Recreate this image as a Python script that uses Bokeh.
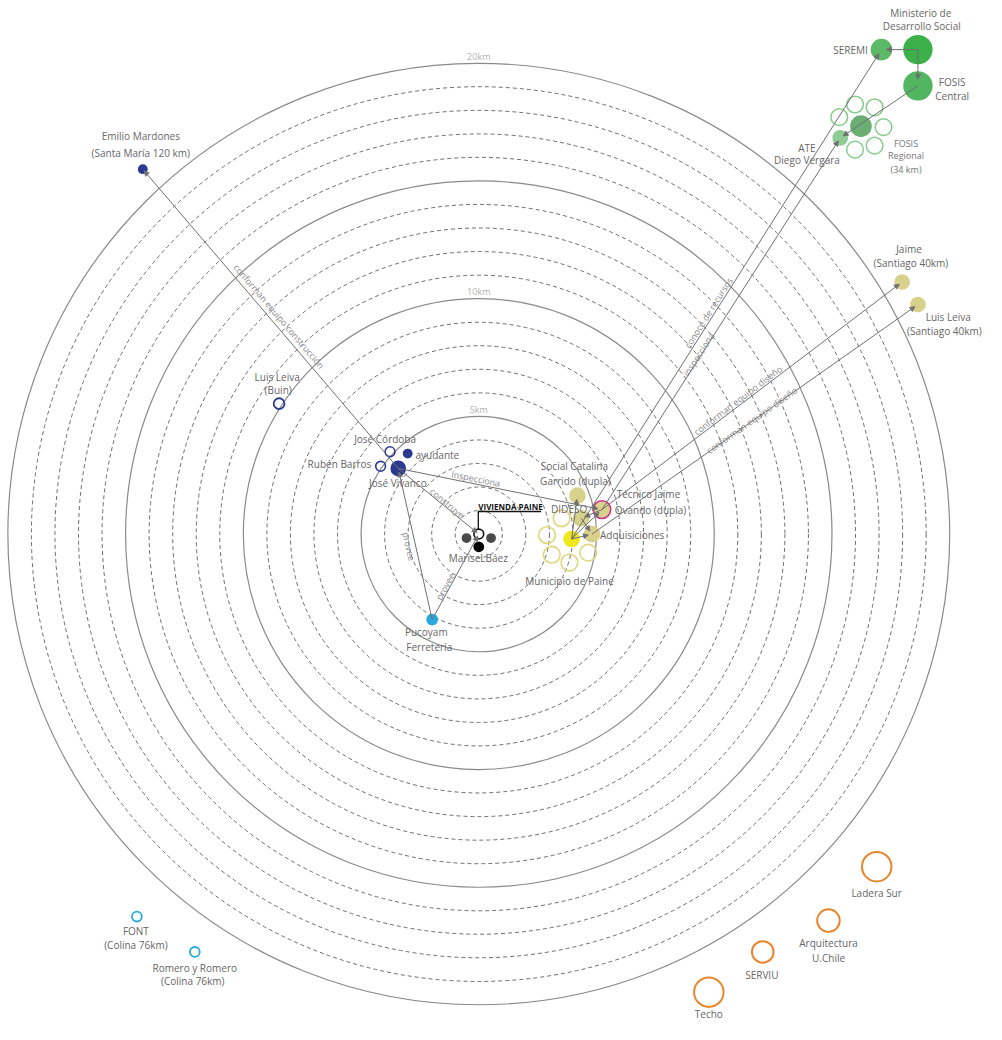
import math
from bokeh.plotting import figure
from bokeh.models import ColumnDataSource, Range1d, Arrow, NormalHead
from bokeh.core.properties import value
from bokeh.embed import file_html
from bokeh.resources import INLINE

# ---------------- DATA ----------------
# distance rings (km)
ring_km = list(range(1, 21))
solid_rings = [5, 10, 15, 20]
ring_label_km = [5, 10, 20]
ring_label_txt = ["5km", "10km", "20km"]

# actors: position in km east / north of the house (diagram distance), group
node_name = ["vivienda", "marisel_a", "marisel_b", "marisel_c",
             "vivanco", "ayudante", "cordoba", "barros", "leiva_buin", "mardones",
             "pucoyam", "font", "romero",
             "social", "dideso", "tecnico", "adquisiciones", "municipio",
             "muni_o1", "muni_o2", "muni_o3", "muni_o4", "muni_o5",
             "jaime", "leiva_stgo",
             "ministerio", "seremi", "fosis_central", "fosis_regional", "ate",
             "fosis_o1", "fosis_o2", "fosis_o3", "fosis_o4", "fosis_o5", "fosis_o6",
             "ladera", "arquitectura", "serviu", "techo"]
node_x = [0.0, -0.52, 0.52, 0.0,
          -3.42, -3.02, -3.77, -4.17, -8.48, -14.27,
          -1.98, -14.52, -12.06,
          4.19, 4.35, 5.23, 4.81, 3.94,
          3.52, 2.90, 3.10, 3.85, 4.65,
          17.98, 18.65,
          18.65, 17.10, 18.65, 16.23, 15.35,
          15.31, 15.98, 16.81, 17.19, 16.81, 15.98,
          16.90, 14.85, 12.06, 9.77]
node_y = [0.0, -0.17, -0.17, -0.54,
          2.79, 3.42, 3.50, 2.88, 5.54, 15.50,
          -3.63, -16.25, -17.75,
          1.63, 0.67, 1.04, 0.0, -0.21,
          0.67, -0.04, -0.875, -1.21, -0.79,
          10.71, 9.75,
          20.58, 20.58, 19.04, 17.33, 16.83,
          17.71, 18.25, 18.13, 17.29, 16.50, 16.33,
          -14.13, -16.42, -17.75, -19.46]
node_group = ["house", "dark", "dark", "black",
              "navy_big", "navy", "navy_open", "navy_open", "navy_open6", "navy",
              "cyan", "cyan_open", "cyan_open",
              "khaki", "khaki", "tecnico", "khaki", "yellow",
              "yellow_open", "yellow_open", "yellow_open", "yellow_open", "yellow_open",
              "khaki_s", "khaki_s",
              "green_min", "green_seremi", "green_central", "green_regional", "green_ate",
              "green_open", "green_open", "green_open", "green_open", "green_open", "green_open",
              "orange_big", "orange_mid", "orange_sm", "orange_big"]

# relations (from, to)
edge_from = ["vivanco", "vivanco", "vivanco", "pucoyam", "pucoyam",
             "tecnico", "adquisiciones", "municipio", "tecnico",
             "ministerio", "ministerio", "fosis_central",
             "municipio", "municipio", "municipio", "dideso", "tecnico"]
edge_to = ["mardones", "tecnico", "vivienda", "vivanco", "vivienda",
           "jaime", "leiva_stgo", "seremi", "ate",
           "seremi", "fosis_central", "ate",
           "social", "tecnico", "adquisiciones", "adquisiciones", "dideso"]

edge_label_txt = ["conforman equipo construcción", "Inspecciona", "construye", "provee", "provee",
                  "conforman equipo diseño", "conforman equipo diseño", "conoce de recursos", "inspecciona"]

# ---------------- LAYOUT / STYLE ----------------
CX, CY, KM = 487.5, 544.0, 24.0   # reference-pixel frame of the diagram


def P(px, py):
    return ((px - CX) / KM, (CY - py) / KM)


NAVY, CYAN, KHAKI = "#2b3990", "#27aae1", "#d8d18b"
styles = {
    "house": dict(r=5, fill=None, line="#111111", lw=1.6),
    "dark": dict(r=5, fill="#4a4a4a", line=None, lw=0),
    "black": dict(r=5.5, fill="#000000", line=None, lw=0),
    "navy_big": dict(r=8, fill=NAVY, line=None, lw=0),
    "navy": dict(r=5, fill=NAVY, line=None, lw=0),
    "navy_open": dict(r=5, fill=None, line=NAVY, lw=1.6),
    "navy_open6": dict(r=5.5, fill=None, line=NAVY, lw=1.8),
    "cyan": dict(r=6, fill=CYAN, line=None, lw=0),
    "cyan_open": dict(r=5, fill=None, line=CYAN, lw=1.8),
    "yellow_open": dict(r=8.5, fill=None, line="#dfd67a", lw=1.6),
    "khaki": dict(r=8.5, fill=KHAKI, line=None, lw=0),
    "khaki_s": dict(r=8, fill=KHAKI, line=None, lw=0),
    "tecnico": dict(r=9, fill=KHAKI, line="#c8378e", lw=1.6),
    "yellow": dict(r=8.5, fill="#f0e61c", line=None, lw=0),
    "green_open": dict(r=8.5, fill=None, line="#86cb8a", lw=1.5),
    "green_min": dict(r=15, fill="#3cb14a", line=None, lw=0),
    "green_seremi": dict(r=11, fill="#5bb967", line=None, lw=0),
    "green_central": dict(r=15, fill="#52b560", line=None, lw=0),
    "green_regional": dict(r=11, fill="#6aae72", line=None, lw=0),
    "green_ate": dict(r=8, fill="#8fcc93", line=None, lw=0),
    "orange_big": dict(r=15, fill=None, line="#e8862d", lw=2),
    "orange_mid": dict(r=11.5, fill=None, line="#e8862d", lw=2),
    "orange_sm": dict(r=11, fill=None, line="#e8862d", lw=2),
}

# edge-label centres (reference pixels), one per labelled edge (first edges)
edge_label_pos = [(284, 322), (484.5, 487.5), (455.5, 512.5), (416.3, 556.7), (453.3, 597.5),
                  (751.7, 407.5), (765.8, 428), (721.7, 318.3), (711.7, 360.8)]
edge_label_edge = [0, 1, 2, 3, 4, 5, 6, 7, 8]

node_labels = [
    ("Emilio Mardones", 143, 138, "center"), ("(Santa María 120 km)", 143, 155, "center"),
    ("Luis Leiva", 282, 384, "center"), ("(Buin)", 283, 397, "center"),
    ("José Córdoba", 392, 447, "center"), ("Rubén Barros", 378, 473, "right"),
    ("ayudante", 423, 463, "left"), ("José Vivanco", 405, 492, "center"),
    ("Pucoyam", 434, 644, "center"), ("Ferretería", 437, 659, "center"),
    ("MariseLBáez", 487, 568, "center"),
    ("Social Catalina", 585, 475, "center"), ("Garrido (dupla)", 586, 490, "center"),
    ("DIDESO", 598, 518, "right"), ("Técnico Jaime", 628, 503, "left"),
    ("Ovando (dupla)", 626, 519, "left"), ("Adquisiciones", 611, 545, "left"),
    ("Municipio de Paine", 580, 592, "center"),
    ("FONT", 138, 949, "center"), ("(Colina 76km)", 138, 963, "center"),
    ("Romero y Romero", 198, 986, "center"), ("(Colina 76km)", 196, 1000, "center"),
    ("Ladera Sur", 893, 910, "center"), ("Arquitectura", 844, 961, "center"),
    ("U.Chile", 844, 976, "center"), ("SERVIU", 776, 994, "center"), ("Techo", 722, 1033, "center"),
    ("Jaime", 926, 253, "center"), ("(Santiago 40km)", 928, 268, "center"),
    ("Luis Leiva", 966, 323, "center"), ("(Santiago 40km)", 962, 337, "center"),
    ("Ministerio de", 938, 13, "center"), ("Desarrollo Social", 939, 26, "center"),
    ("SEREMI", 884, 50, "right"), ("FOSIS", 970, 83, "center"), ("Central", 970, 97, "center"),
    ("ATE", 822, 150, "center"), ("Diego Vergara", 822, 163, "center"),
]
small_labels = [("FOSIS", 923, 146), ("Regional", 923, 158), ("(34 km)", 923, 172)]

FONT = value("Open Sans")

# ---------------- FIGURE ----------------
W, H = 986, 1024
p = figure(width=W, height=H,
           x_range=Range1d(P(0, 0)[0], P(1005, 0)[0]),
           y_range=Range1d(P(0, 1044)[1], P(0, 0)[1]),
           x_axis_type=None, y_axis_type=None,
           output_backend="svg", toolbar_location=None, min_border=0)
p.grid.visible = False
p.outline_line_color = None
p.background_fill_color = "white"

# rings
dashed = [r for r in ring_km if r not in solid_rings]
p.circle(x=[0] * len(dashed), y=[0] * len(dashed), radius=dashed, fill_color=None,
         line_color="#5c5c5c", line_width=0.9, line_dash="4 3")
p.circle(x=[0] * len(solid_rings), y=[0] * len(solid_rings), radius=solid_rings, fill_color=None,
         line_color="#8a8a8a", line_width=1.2)
p.text(x=[0] * len(ring_label_km), y=[r + 0.3 for r in ring_label_km], text=ring_label_txt,
       text_font=FONT, text_font_size="9px", text_color="#b0b0b0",
       text_align="center", text_baseline="middle")

# nodes
idx = {n: i for i, n in enumerate(node_name)}
order = ["yellow_open", "green_open"] + [g for g in styles if g not in ("yellow_open", "green_open")]
for g in order:
    ids = [i for i, gg in enumerate(node_group) if gg == g]
    if not ids:
        continue
    s = styles[g]
    kw = dict(x=[node_x[i] for i in ids], y=[node_y[i] for i in ids], radius=s["r"] / KM)
    if s["fill"] is None:
        kw.update(fill_color=None)
    else:
        kw.update(fill_color=s["fill"])
    if s["line"] is None:
        kw.update(line_color=None)
    else:
        kw.update(line_color=s["line"], line_width=s["lw"])
    p.circle(**kw)

# relations (arrows)
xs0, ys0, xs1, ys1 = [], [], [], []
for a, b in zip(edge_from, edge_to):
    ia, ib = idx[a], idx[b]
    x0, y0, x1, y1 = node_x[ia], node_y[ia], node_x[ib], node_y[ib]
    d = math.hypot(x1 - x0, y1 - y0)
    short = 0.45 * styles[node_group[ib]]["r"] / KM
    xs0.append(x0); ys0.append(y0)
    xs1.append(x1 - (x1 - x0) / d * short); ys1.append(y1 - (y1 - y0) / d * short)
asrc = ColumnDataSource(dict(x_start=xs0, y_start=ys0, x_end=xs1, y_end=ys1))
p.add_layout(Arrow(end=NormalHead(size=5, fill_color="#707070", line_color="#707070", line_width=0.8),
                   source=asrc, x_start="x_start", y_start="y_start", x_end="x_end", y_end="y_end",
                   line_color="#707070", line_width=1))

# edge labels
lx, ly, la = [], [], []
for (px, py), e in zip(edge_label_pos, edge_label_edge):
    ia, ib = idx[edge_from[e]], idx[edge_to[e]]
    ang = math.atan2(node_y[ib] - node_y[ia], node_x[ib] - node_x[ia])
    if ang > math.pi / 2:
        ang -= math.pi
    elif ang <= -math.pi / 2:
        ang += math.pi
    x, y = P(px, py)
    lx.append(x); ly.append(y); la.append(ang)
p.text(x=lx, y=ly, text=edge_label_txt, angle=la, text_font=FONT, text_font_size="9px",
       text_color="#8a8a8a", text_align="center", text_baseline="middle")

# house leader line + title
hx, hy = zip(*[P(487, 539), P(487, 521), P(551, 521)])
p.line(x=list(hx), y=list(hy), line_color="#111111", line_width=1.3)
tx, ty = P(487, 515.5)
p.text(x=[tx], y=[ty], text=["VIVIENDA PAINE"], text_font=FONT, text_font_size="8px",
       text_font_style="bold", text_color="#111111", text_align="left", text_baseline="middle")

# node labels
for al in ("left", "center", "right"):
    sel = [t for t in node_labels if t[3] == al]
    pts = [P(t[1], t[2]) for t in sel]
    p.text(x=[q[0] for q in pts], y=[q[1] for q in pts], text=[t[0] for t in sel],
           text_font=FONT, text_font_size="10px", text_color="#666666",
           text_align=al, text_baseline="middle")
pts = [P(t[1], t[2]) for t in small_labels]
p.text(x=[q[0] for q in pts], y=[q[1] for q in pts], text=[t[0] for t in small_labels],
       text_font=FONT, text_font_size="9px", text_color="#777777",
       text_align="center", text_baseline="middle")

open("out.html", "w").write(file_html(p, INLINE))
